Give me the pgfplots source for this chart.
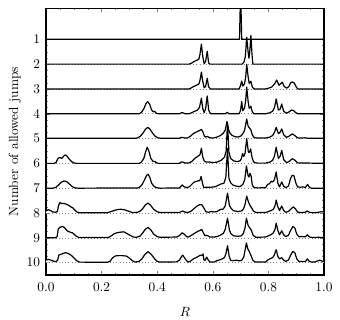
\documentclass[border=0pt]{standalone}
\usepackage{pgfplots}
\usepackage{pgfplotstable}
\pgfplotsset{compat=1.18}

% one table per number of allowed jumps: R and ridge height h (in row units)
\pgfplotstableread{
R h
0 0
0.696 0
0.700 2.0
0.704 0
1 0
}\rowa
\pgfplotstableread{
R h
0 0
0.515 0
0.525 0.05
0.535 0.12
0.543 0.16
0.550 0.2
0.554 0.4
0.559 0.81
0.564 0.3
0.569 0.02
0.574 0.1
0.580 0.52
0.585 0.05
0.590 0
0.705 0
0.712 0.08
0.717 0.3
0.722 1.08
0.727 0.5
0.730 0.24
0.733 0.5
0.737 1.16
0.741 0.4
0.744 0
1 0
}\rowb
\pgfplotstableread{
R h
0 0
0.515 0
0.525 0.06
0.535 0.12
0.543 0.16
0.550 0.2
0.554 0.35
0.559 0.68
0.564 0.3
0.569 0.05
0.574 0.1
0.580 0.43
0.585 0.08
0.592 0
0.695 0
0.700 0.15
0.704 0.32
0.708 0.12
0.714 0.2
0.718 0.45
0.722 0.99
0.727 0.5
0.731 0.22
0.737 0.31
0.742 0.08
0.748 0
0.790 0
0.800 0.03
0.812 0.08
0.822 0.2
0.830 0.36
0.838 0.15
0.843 0.2
0.850 0.27
0.857 0.1
0.866 0.03
0.874 0.1
0.880 0.25
0.886 0.28
0.893 0.24
0.900 0.08
0.906 0
1 0
}\rowc
\pgfplotstableread{
R h
0 0
0.335 0
0.343 0.05
0.352 0.2
0.360 0.42
0.366 0.49
0.373 0.38
0.380 0.15
0.386 0.08
0.391 0.1
0.397 0.02
0.403 0
0.48 0
0.487 0.04
0.492 0.04
0.50 0
0.515 0
0.525 0.05
0.535 0.1
0.545 0.15
0.552 0.25
0.559 0.63
0.564 0.2
0.569 0.05
0.574 0.2
0.580 0.72
0.585 0.15
0.592 0
0.645 0
0.652 0.06
0.658 0
0.695 0
0.700 0.15
0.704 0.49
0.708 0.12
0.714 0.22
0.718 0.5
0.722 1.08
0.727 0.5
0.731 0.22
0.737 0.3
0.742 0.08
0.748 0
0.790 0
0.805 0.04
0.815 0.1
0.822 0.25
0.828 0.6
0.836 0.15
0.842 0.18
0.848 0.39
0.855 0.1
0.865 0.02
0.875 0.08
0.883 0.15
0.890 0.13
0.898 0.05
0.906 0
1 0
}\rowd
\pgfplotstableread{
R h
0 0.01
0.32 0.01
0.330 0.03
0.340 0.1
0.350 0.24
0.358 0.38
0.366 0.45
0.374 0.38
0.382 0.24
0.392 0.1
0.402 0.03
0.415 0.01
0.48 0.01
0.487 0.05
0.493 0.04
0.50 0.02
0.51 0.03
0.52 0.1
0.53 0.2
0.54 0.26
0.548 0.3
0.555 0.34
0.559 0.37
0.564 0.28
0.569 0.12
0.574 0.06
0.580 0.09
0.586 0.05
0.595 0.02
0.605 0.03
0.615 0.06
0.627 0.12
0.638 0.22
0.645 0.35
0.651 0.69
0.656 0.4
0.660 0.25
0.668 0.14
0.678 0.08
0.690 0.06
0.700 0.1
0.707 0.18
0.714 0.32
0.722 0.79
0.727 0.5
0.732 0.42
0.737 0.35
0.742 0.15
0.748 0.05
0.760 0.02
0.790 0.02
0.805 0.06
0.815 0.12
0.822 0.25
0.828 0.45
0.836 0.2
0.842 0.25
0.848 0.39
0.855 0.15
0.865 0.05
0.875 0.1
0.886 0.19
0.895 0.12
0.905 0.03
0.915 0.02
0.93 0.03
0.945 0.01
1 0.01
}\rowe
\pgfplotstableread{
R h
0 0
0.030 0
0.037 0.05
0.043 0.2
0.050 0.24
0.056 0.2
0.062 0.27
0.068 0.34
0.075 0.3
0.083 0.18
0.092 0.07
0.100 0.02
0.110 0
0.335 0
0.343 0.05
0.352 0.2
0.358 0.45
0.364 0.65
0.370 0.5
0.377 0.2
0.386 0.07
0.391 0.08
0.398 0.02
0.405 0
0.48 0
0.487 0.06
0.493 0.05
0.50 0.01
0.515 0.02
0.525 0.08
0.535 0.2
0.542 0.25
0.548 0.3
0.554 0.35
0.559 0.61
0.564 0.25
0.569 0.1
0.575 0.05
0.585 0.06
0.600 0.03
0.615 0.05
0.630 0.12
0.642 0.25
0.648 0.5
0.653 1.65
0.658 0.45
0.664 0.2
0.675 0.1
0.688 0.07
0.698 0.1
0.703 0.2
0.707 0.4
0.711 0.28
0.716 0.4
0.722 1.0
0.728 0.45
0.732 0.45
0.736 0.58
0.741 0.25
0.747 0.05
0.760 0.01
0.79 0.01
0.805 0.05
0.815 0.12
0.822 0.3
0.828 0.65
0.836 0.2
0.842 0.28
0.848 0.52
0.855 0.15
0.865 0.03
0.875 0.08
0.886 0.19
0.895 0.13
0.905 0.02
1 0
}\rowf
\pgfplotstableread{
R h
0 0
0.025 0
0.035 0.03
0.045 0.13
0.055 0.24
0.065 0.29
0.075 0.26
0.085 0.16
0.095 0.06
0.105 0.01
0.115 0
0.33 0.01
0.337 0.04
0.346 0.15
0.355 0.35
0.362 0.52
0.367 0.56
0.373 0.45
0.380 0.2
0.388 0.08
0.397 0.02
0.41 0
0.48 0.01
0.486 0.08
0.490 0.13
0.495 0.07
0.505 0.02
0.515 0.05
0.524 0.15
0.532 0.24
0.540 0.27
0.548 0.3
0.553 0.3
0.558 0.47
0.563 0.2
0.567 0.03
0.580 0.04
0.595 0.04
0.609 0.06
0.620 0.12
0.630 0.17
0.640 0.2
0.647 0.45
0.653 1.6
0.658 0.4
0.664 0.22
0.672 0.13
0.682 0.09
0.695 0.06
0.703 0.1
0.709 0.17
0.715 0.35
0.721 0.9
0.727 0.5
0.730 0.45
0.734 0.6
0.738 0.48
0.742 0.12
0.748 0.03
0.76 0.01
0.79 0.02
0.797 0.15
0.804 0.18
0.81 0.28
0.816 0.25
0.822 0.35
0.828 0.65
0.834 0.2
0.840 0.05
0.848 0.25
0.855 0.08
0.862 0.02
0.872 0.08
0.880 0.4
0.886 0.52
0.892 0.5
0.899 0.2
0.905 0.05
0.915 0.04
0.925 0.05
0.933 0.03
0.941 0.15
0.948 0.03
0.955 0
1 0
}\rowg
\pgfplotstableread{
R h
0 0.08
0.008 0.13
0.016 0.1
0.025 0.04
0.035 0.03
0.041 0.06
0.045 0.3
0.050 0.42
0.057 0.38
0.067 0.38
0.076 0.34
0.083 0.3
0.090 0.24
0.097 0.2
0.105 0.1
0.113 0.03
0.12 0.01
0.22 0.01
0.232 0.05
0.245 0.1
0.258 0.14
0.27 0.15
0.282 0.13
0.295 0.08
0.31 0.02
0.325 0.02
0.337 0.06
0.347 0.16
0.357 0.32
0.367 0.4
0.377 0.3
0.388 0.14
0.400 0.05
0.41 0.02
0.48 0.02
0.487 0.06
0.492 0.08
0.498 0.04
0.51 0.02
0.52 0.06
0.53 0.15
0.54 0.25
0.548 0.31
0.554 0.34
0.561 0.33
0.568 0.2
0.575 0.05
0.585 0.03
0.595 0.06
0.605 0.04
0.615 0.06
0.627 0.14
0.638 0.16
0.645 0.3
0.653 0.8
0.660 0.3
0.666 0.18
0.675 0.09
0.69 0.06
0.703 0.08
0.71 0.15
0.716 0.35
0.722 0.68
0.728 0.45
0.734 0.3
0.74 0.2
0.746 0.08
0.755 0.02
0.79 0.02
0.80 0.06
0.81 0.1
0.818 0.15
0.824 0.3
0.828 0.52
0.834 0.25
0.840 0.1
0.848 0.28
0.855 0.1
0.862 0.03
0.872 0.06
0.880 0.15
0.890 0.25
0.898 0.15
0.906 0.03
0.92 0.02
0.933 0.03
0.94 0.08
0.947 0.03
0.96 0.01
0.975 0.02
0.99 0.05
1 0.04
}\rowh
\pgfplotstableread{
R h
0 0
0.035 0
0.040 0.05
0.044 0.35
0.050 0.42
0.058 0.46
0.066 0.42
0.072 0.33
0.078 0.27
0.086 0.23
0.095 0.2
0.103 0.12
0.112 0.04
0.12 0.01
0.225 0.01
0.235 0.08
0.245 0.16
0.257 0.21
0.27 0.23
0.28 0.24
0.29 0.18
0.302 0.1
0.315 0.03
0.325 0.02
0.337 0.06
0.347 0.18
0.357 0.34
0.367 0.42
0.377 0.32
0.388 0.14
0.400 0.05
0.41 0.02
0.47 0.03
0.48 0.09
0.49 0.2
0.497 0.15
0.505 0.05
0.512 0.03
0.52 0.08
0.53 0.15
0.54 0.22
0.548 0.27
0.555 0.3
0.56 0.34
0.566 0.2
0.572 0.08
0.578 0.1
0.582 0.08
0.59 0.03
0.605 0.03
0.615 0.05
0.627 0.1
0.638 0.18
0.645 0.35
0.653 0.79
0.660 0.3
0.666 0.15
0.675 0.08
0.69 0.06
0.703 0.08
0.71 0.18
0.716 0.4
0.721 0.79
0.727 0.5
0.733 0.4
0.739 0.3
0.745 0.1
0.755 0.02
0.79 0.03
0.80 0.08
0.81 0.13
0.818 0.2
0.824 0.35
0.828 0.59
0.834 0.3
0.840 0.12
0.848 0.28
0.855 0.12
0.862 0.05
0.872 0.1
0.880 0.3
0.888 0.45
0.895 0.4
0.902 0.15
0.91 0.04
0.92 0.05
0.933 0.04
0.94 0.12
0.948 0.03
0.96 0.01
0.98 0.02
1 0.01
}\rowi
\pgfplotstableread{
R h
0 0.1
0.008 0.13
0.018 0.1
0.028 0.05
0.036 0.04
0.042 0.1
0.046 0.3
0.052 0.33
0.060 0.36
0.070 0.4
0.080 0.37
0.090 0.3
0.100 0.2
0.110 0.08
0.12 0.02
0.22 0.01
0.23 0.05
0.24 0.2
0.25 0.27
0.26 0.28
0.275 0.28
0.29 0.26
0.30 0.18
0.31 0.08
0.32 0.02
0.335 0.05
0.345 0.15
0.355 0.32
0.367 0.44
0.378 0.34
0.39 0.16
0.40 0.05
0.41 0.02
0.47 0.03
0.48 0.1
0.488 0.25
0.492 0.3
0.498 0.2
0.505 0.08
0.512 0.02
0.52 0.06
0.53 0.15
0.54 0.2
0.548 0.25
0.555 0.3
0.561 0.28
0.565 0.35
0.568 0.12
0.572 0.08
0.578 0.22
0.584 0.1
0.59 0.02
0.605 0.02
0.615 0.08
0.622 0.1
0.632 0.14
0.642 0.2
0.647 0.35
0.653 0.68
0.659 0.25
0.665 0.08
0.675 0.08
0.685 0.1
0.695 0.07
0.705 0.1
0.712 0.25
0.716 0.5
0.721 0.79
0.726 0.55
0.731 0.45
0.737 0.3
0.744 0.1
0.752 0.02
0.79 0.02
0.797 0.1
0.805 0.15
0.815 0.2
0.821 0.3
0.828 0.52
0.834 0.25
0.840 0.15
0.848 0.2
0.855 0.1
0.862 0.05
0.872 0.1
0.880 0.3
0.888 0.45
0.895 0.4
0.902 0.15
0.91 0.04
0.92 0.05
0.933 0.04
0.94 0.15
0.947 0.05
0.955 0.02
0.965 0.02
0.975 0.06
0.985 0.1
0.993 0.06
1 0.05
}\rowj

% white-filled ridge, dotted baseline, then the curve on top
\newcommand{\ridge}[2]{%
  \addplot[draw=none, fill=white, forget plot] table[x=R, y expr={#2-\thisrow{h}}] {#1}
    -- (axis cs:1,#2) -- (axis cs:0,#2) -- cycle;
  \addplot[gray, dotted, line width=0.4pt, forget plot] coordinates {(0,#2) (1,#2)};
  \addplot[black, line width=0.9pt, line join=round, forget plot] table[x=R, y expr={#2-\thisrow{h}}] {#1};
}

\begin{document}
\begin{tikzpicture}
% page frame, with the white margin of the reference
\path[use as bounding box] (-34.5pt,-33.75pt) rectangle (220.5pt,206.25pt);
\begin{axis}[
    at={(0,0)}, anchor=south west,
    width=208.5pt, height=200pt, scale only axis,
    xmin=0, xmax=1, ymin=-0.25, ymax=10.5,
    y dir=reverse,
    xtick={0,0.2,...,1}, ytick={1,...,10},
    minor x tick num=3, minor y tick num=3,
    major tick length=3pt, minor tick length=1.5pt,
    xticklabel style={/pgf/number format/fixed, /pgf/number format/fixed zerofill,
        /pgf/number format/precision=1, yshift=-2.5pt},
    yticklabel style={xshift=-1pt},
    axis line style={line width=0.8pt},
    xlabel={$R$}, ylabel={Number of allowed jumps},
    every axis x label/.style={at={(axis description cs:0.5,-0.138)}, anchor=center},
    every axis y label/.style={at={(axis description cs:-0.112,0.5)}, rotate=90, anchor=center},
    clip=true,
]
\ridge{\rowa}{1}
\ridge{\rowb}{2}
\ridge{\rowc}{3}
\ridge{\rowd}{4}
\ridge{\rowe}{5}
\ridge{\rowf}{6}
\ridge{\rowg}{7}
\ridge{\rowh}{8}
\ridge{\rowi}{9}
\ridge{\rowj}{10}
\end{axis}
\end{tikzpicture}
\end{document}
